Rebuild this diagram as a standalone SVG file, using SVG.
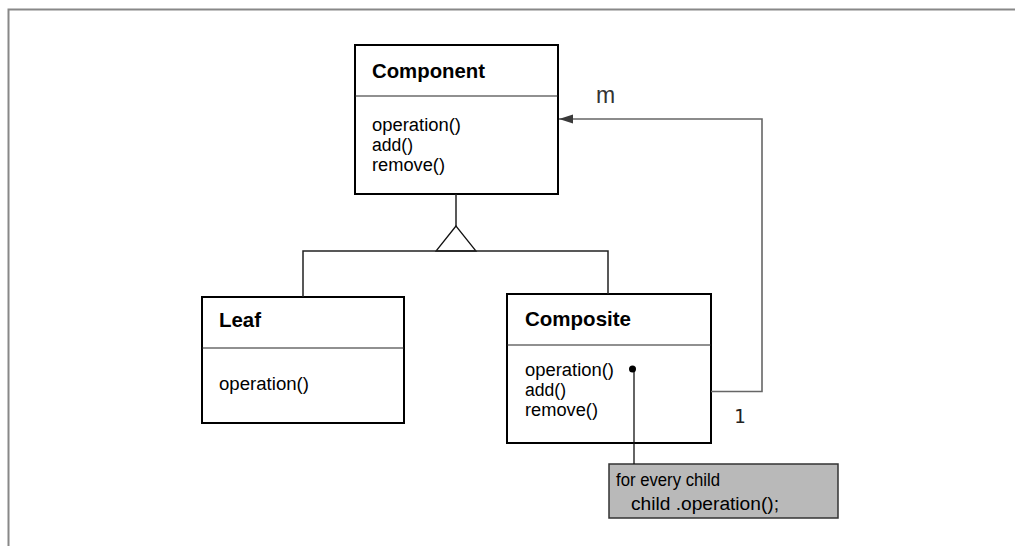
<svg xmlns="http://www.w3.org/2000/svg" width="1015" height="546" viewBox="0 0 1015 546">
  <style>
    .box { fill: #ffffff; stroke: #000000; stroke-width: 2; }
    .div { stroke: #222222; stroke-width: 1.2; fill: none; }
    .title { font-family: "Liberation Sans", Arial, sans-serif; font-weight: bold; font-size: 21px; fill: #000000; }
    .op { font-family: "Liberation Sans", Arial, sans-serif; font-size: 18px; fill: #000000; }
    .note { font-family: "Liberation Sans", Arial, sans-serif; font-size: 18px; fill: #000000; }
    .gen { stroke: #222222; stroke-width: 1.5; fill: none; }
    .assoc { stroke: #666666; stroke-width: 1.6; fill: none; }
    .mult { font-family: "DejaVu Sans Mono", "Liberation Mono", monospace; font-size: 19px; fill: #222222; }
    .mult-m { font-family: "Liberation Sans", Arial, sans-serif; font-size: 23px; fill: #333333; }
  </style>
  <defs>
    <marker id="filled" markerWidth="14" markerHeight="10" refX="14" refY="5" orient="auto" markerUnits="userSpaceOnUse">
      <path d="M0,0.5 L14,5 L0,9.5 Z" fill="#3a3a3a"/>
    </marker>
  </defs>

  <rect width="1015" height="546" fill="#ffffff"/>

  <!-- page frame -->
  <path d="M8.5,546 L8.5,9.5 L1015,9.5" stroke="#888888" stroke-width="2" fill="none"/>

  <g id="component">
    <rect class="box" x="355" y="45" width="203" height="149"/>
    <line class="div" x1="355" y1="96" x2="558" y2="96"/>
    <text class="title" x="372" y="78" textLength="113" lengthAdjust="spacingAndGlyphs">Component</text>
    <text class="op" x="372" y="130.5" textLength="89" lengthAdjust="spacingAndGlyphs">operation()</text>
    <text class="op" x="372" y="150.5" textLength="41" lengthAdjust="spacingAndGlyphs">add()</text>
    <text class="op" x="372" y="170.5" textLength="73" lengthAdjust="spacingAndGlyphs">remove()</text>
  </g>

  <g id="leaf">
    <rect class="box" x="202" y="297" width="202" height="126"/>
    <line class="div" x1="202" y1="348" x2="404" y2="348"/>
    <text class="title" x="219" y="327" textLength="42" lengthAdjust="spacingAndGlyphs">Leaf</text>
    <text class="op" x="219" y="390" textLength="90" lengthAdjust="spacingAndGlyphs">operation()</text>
  </g>

  <g id="composite">
    <rect class="box" x="507" y="294" width="204" height="149"/>
    <line class="div" x1="507" y1="345" x2="711" y2="345"/>
    <text class="title" x="525" y="326" textLength="106" lengthAdjust="spacingAndGlyphs">Composite</text>
    <text class="op" x="525" y="375.5" textLength="89" lengthAdjust="spacingAndGlyphs">operation()</text>
    <text class="op" x="525" y="395.5" textLength="41" lengthAdjust="spacingAndGlyphs">add()</text>
    <text class="op" x="525" y="415.5" textLength="73" lengthAdjust="spacingAndGlyphs">remove()</text>
  </g>

  <g id="note">
    <rect x="609" y="464" width="229" height="54" fill="#b9b9b9" stroke="#333333" stroke-width="1.5"/>
    <text class="note" x="616" y="486" textLength="104" lengthAdjust="spacingAndGlyphs">for every child</text>
    <text class="note" x="631" y="510" textLength="148" lengthAdjust="spacingAndGlyphs">child .operation();</text>
  </g>

  <g id="connectors">
    <!-- generalization tree -->
    <line class="gen" x1="456" y1="194" x2="456" y2="226" stroke-width="2"/>
    <polygon points="456,226 436,251 476,251" fill="#ffffff" stroke="#111111" stroke-width="1.3"/>
    <path class="gen" d="M303,297 L303,251 L608,251 L608,294"/>
    <!-- aggregation of children -->
    <path class="assoc" d="M711,391.5 L762,391.5 L762,119 L559,119" marker-end="url(#filled)"/>
    <text class="mult-m" x="596" y="103">m</text>
    <text class="mult" x="734" y="423">1</text>
    <!-- note anchor -->
    <line x1="634" y1="369" x2="634" y2="464" stroke="#111111" stroke-width="1.3"/>
    <circle cx="632.5" cy="369" r="3.5" fill="#000000"/>
  </g>
</svg>
